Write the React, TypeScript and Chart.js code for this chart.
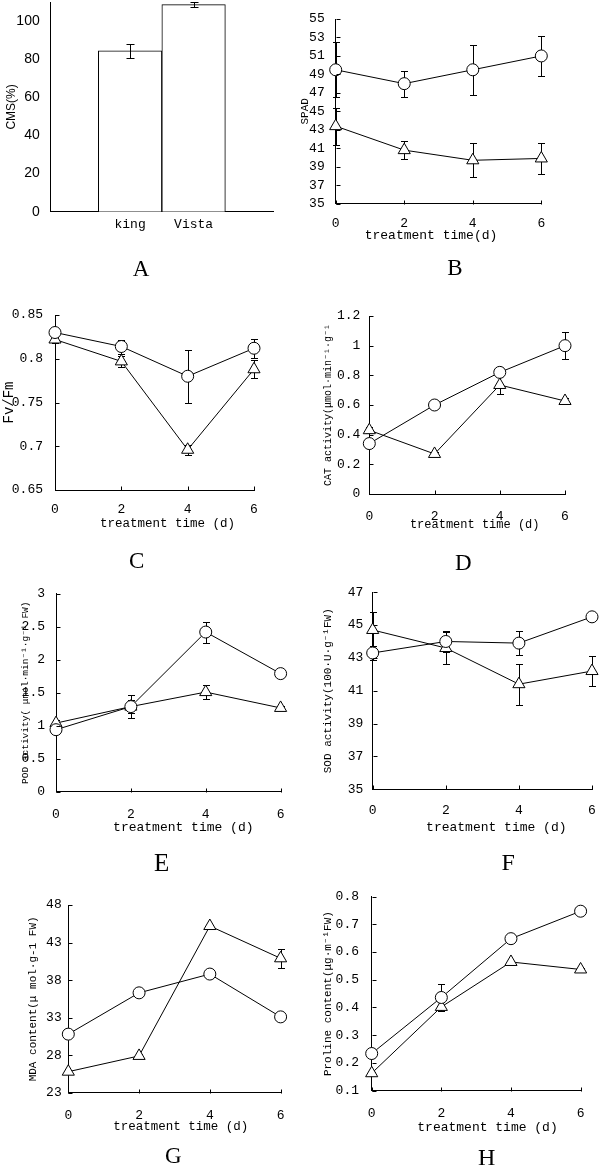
import React, { useEffect, useRef } from 'react';
import { Chart, registerables } from 'chart.js';

Chart.register(...registerables);

// ---------- data ----------
const days = [0, 2, 4, 6];
const dayTickLabels = ['0', '2', '4', '6'];

const cmsCultivars = ['king', 'Vista'];
const cmsValues = [84.5, 108.7];
const cmsErrors = [3.8, 1.2];
const cmsTicks = [0, 20, 40, 60, 80, 100];
const cmsTickLabels = ['0', '20', '40', '60', '80', '100'];

const spadCircle = [49.5, 48.0, 49.5, 51.0];
const spadCircleErr = [3.0, 1.4, 2.7, 2.2];
const spadTriangle = [43.4, 40.8, 39.7, 39.9];
const spadTriangleErr = [2.0, 1.0, 1.85, 1.7];
const spadTicks = [35, 37, 39, 41, 43, 45, 47, 49, 51, 53, 55];
const spadTickLabels = ['35', '37', '39', '41', '43', '45', '47', '49', '51', '53', '55'];

const fvfmCircle = [0.83, 0.814, 0.78, 0.812];
const fvfmCircleErr = [0.005, 0.008, 0.03, 0.011];
const fvfmTriangle = [0.822, 0.797, 0.696, 0.788];
const fvfmTriangleErr = [0.004, 0.006, 0.006, 0.01];
const fvfmTicks = [0.65, 0.7, 0.75, 0.8, 0.85];
const fvfmTickLabels = ['0.65', '0.7', '0.75', '0.8', '0.85'];

const catCircle = [0.34, 0.6, 0.82, 1.0];
const catCircleErr = [0.02, 0.02, 0.02, 0.09];
const catTriangle = [0.43, 0.27, 0.735, 0.627];
const catTriangleErr = [0.02, 0.01, 0.06, 0.02];
const catTicks = [0, 0.2, 0.4, 0.6, 0.8, 1, 1.2];
const catTickLabels = ['0', '0.2', '0.4', '0.6', '0.8', '1', '1.2'];

const podCircle = [0.94, 1.29, 2.42, 1.79];
const podCircleErr = [0.05, 0.17, 0.16, 0.03];
const podTriangle = [1.04, 1.29, 1.51, 1.27];
const podTriangleErr = [0.05, 0.1, 0.1, 0.03];
const podTicks = [0, 0.5, 1, 1.5, 2, 2.5, 3];
const podTickLabels = ['0', '0.5', '1', '1.5', '2', '2.5', '3'];

const sodCircle = [43.3, 44.0, 43.9, 45.5];
const sodCircleErr = [0.4, 0.65, 0.75, 0.1];
const sodTriangle = [44.7, 43.6, 41.4, 42.2];
const sodTriangleErr = [1.1, 1.0, 1.24, 0.93];
const sodTicks = [35, 37, 39, 41, 43, 45, 47];
const sodTickLabels = ['35', '37', '39', '41', '43', '45', '47'];

const mdaCircle = [30.8, 36.3, 38.8, 33.1];
const mdaCircleErr = [0.2, 0.2, 0.2, 0.2];
const mdaTriangle = [25.8, 27.9, 45.2, 40.9];
const mdaTriangleErr = [0.2, 0.2, 0.2, 1.3];
const mdaTicks = [23, 28, 33, 38, 43, 48];
const mdaTickLabels = ['23', '28', '33', '38', '43', '48'];

const proCircle = [0.234, 0.436, 0.648, 0.747];
const proCircleErr = [0.005, 0.048, 0.005, 0.005];
const proTriangle = [0.163, 0.402, 0.564, 0.537];
const proTriangleErr = [0.005, 0.005, 0.005, 0.005];
const proTicks = [0.1, 0.2, 0.3, 0.4, 0.5, 0.6, 0.7, 0.8];
const proTickLabels = ['0.1', '0.2', '0.3', '0.4', '0.5', '0.6', '0.7', '0.8'];

// ---------- styling ----------
const MONO = "'Liberation Mono', 'Courier New', monospace";
const SANS = "'Liberation Sans', Arial, sans-serif";
const SERIF = "'Liberation Serif', 'Times New Roman', serif";
const X_H = 34;

type Rect = { x: number; y: number; w: number; h: number };
type Plot = { l: number; r: number; t: number; b: number };

function makeErrorBarPlugin(after: boolean, cap: number) {
  const draw = (chart: any) => {
    const ctx = chart.ctx;
    chart.data.datasets.forEach((ds: any, di: number) => {
      const errs: number[] | undefined = ds.errors;
      if (!errs) return;
      const meta = chart.getDatasetMeta(di);
      const yScale = chart.scales[meta.yAxisID];
      ctx.save();
      ctx.strokeStyle = '#000';
      ctx.lineWidth = 1;
      meta.data.forEach((el: any, i: number) => {
        const e = errs[i];
        if (!e) return;
        const v = ds.data[i].y;
        const x = Math.round(el.x) + 0.5;
        const y1 = Math.round(yScale.getPixelForValue(v + e)) + 0.5;
        const y2 = Math.round(yScale.getPixelForValue(v - e)) + 0.5;
        ctx.beginPath();
        ctx.moveTo(x, y1);
        ctx.lineTo(x, y2);
        ctx.moveTo(x - cap, y1);
        ctx.lineTo(x + cap, y1);
        ctx.moveTo(x - cap, y2);
        ctx.lineTo(x + cap, y2);
        ctx.stroke();
      });
      ctx.restore();
    });
  };
  return after
    ? { id: 'errorBarsAfter', afterDatasetsDraw: draw }
    : { id: 'errorBarsBefore', beforeDatasetsDraw: draw };
}

const innerTicksPlugin = {
  id: 'innerTicks',
  afterDraw(chart: any) {
    const ctx = chart.ctx;
    const xs = chart.scales.x;
    const ys = chart.scales.y;
    const left = Math.round(chart.chartArea.left) + 0.5;
    const bottom = Math.round(chart.chartArea.bottom) + 0.5;
    ctx.save();
    ctx.strokeStyle = '#000';
    ctx.lineWidth = 1;
    ctx.beginPath();
    ys.ticks.forEach((t: any) => {
      const py = Math.round(ys.getPixelForValue(t.value)) + 0.5;
      ctx.moveTo(left, py);
      ctx.lineTo(left + 4, py);
    });
    xs.ticks.forEach((t: any) => {
      const px = Math.round(xs.getPixelForValue(t.value)) + 0.5;
      ctx.moveTo(px, bottom);
      ctx.lineTo(px, bottom - 4);
    });
    ctx.stroke();
    ctx.restore();
  },
};

interface LinePanel {
  circle: number[];
  circleErr: number[];
  triangle: number[];
  triangleErr: number[];
  yTicks: number[];
  yTickLabels: string[];
  yTitle: string;
  yTitleSize: number;
  yTitleX: number;
  canvas: Rect;
  plot: Plot;
  yTickPad: number;
  xTickPad: number;
  xTitle: string;
  xTitleSize: number;
  xTitlePos: [number, number];
  letter: string;
  letterPos: [number, number];
  letterSize: number;
}

const panels: LinePanel[] = [
  {
    circle: spadCircle, circleErr: spadCircleErr, triangle: spadTriangle, triangleErr: spadTriangleErr,
    yTicks: spadTicks, yTickLabels: spadTickLabels,
    yTitle: 'SPAD', yTitleSize: 11, yTitleX: 305,
    canvas: { x: 298, y: 0, w: 302, h: 280 }, plot: { l: 335.7, r: 541.3, t: 19, b: 203.7 },
    yTickPad: 11, xTickPad: 12.5,
    xTitle: 'treatment time(d)', xTitleSize: 13, xTitlePos: [431, 235],
    letter: 'B', letterPos: [455, 267], letterSize: 23,
  },
  {
    circle: fvfmCircle, circleErr: fvfmCircleErr, triangle: fvfmTriangle, triangleErr: fvfmTriangleErr,
    yTicks: fvfmTicks, yTickLabels: fvfmTickLabels,
    yTitle: 'Fv/Fm', yTitleSize: 14, yTitleX: 9,
    canvas: { x: 0, y: 295, w: 300, h: 245 }, plot: { l: 55, r: 254, t: 315, b: 490 },
    yTickPad: 12, xTickPad: 12,
    xTitle: 'treatment time (d)', xTitleSize: 12.5, xTitlePos: [167.5, 524.3],
    letter: 'C', letterPos: [136.7, 560], letterSize: 23,
  },
  {
    circle: catCircle, circleErr: catCircleErr, triangle: catTriangle, triangleErr: catTriangleErr,
    yTicks: catTicks, yTickLabels: catTickLabels,
    yTitle: 'CAT activity(μmol·min⁻¹·g⁻¹', yTitleSize: 10, yTitleX: 328,
    canvas: { x: 300, y: 295, w: 300, h: 245 }, plot: { l: 369.3, r: 565, t: 316, b: 494 },
    yTickPad: 9, xTickPad: 15,
    xTitle: 'treatment time (d)', xTitleSize: 12, xTitlePos: [474.7, 525],
    letter: 'D', letterPos: [463.3, 561.7], letterSize: 23,
  },
  {
    circle: podCircle, circleErr: podCircleErr, triangle: podTriangle, triangleErr: podTriangleErr,
    yTicks: podTicks, yTickLabels: podTickLabels,
    yTitle: 'POD activity( μmol·min⁻¹·g⁻¹ FW)', yTitleSize: 9.5, yTitleX: 25,
    canvas: { x: 0, y: 575, w: 300, h: 260 }, plot: { l: 56, r: 285.7, t: 590, b: 791.7 },
    yTickPad: 11, xTickPad: 15.5,
    xTitle: 'treatment time (d)', xTitleSize: 13, xTitlePos: [183.3, 827.3],
    letter: 'E', letterPos: [161.7, 861.7], letterSize: 25,
  },
  {
    circle: sodCircle, circleErr: sodCircleErr, triangle: sodTriangle, triangleErr: sodTriangleErr,
    yTicks: sodTicks, yTickLabels: sodTickLabels,
    yTitle: 'SOD activity(100·U·g⁻¹FW)', yTitleSize: 11, yTitleX: 328.3,
    canvas: { x: 300, y: 575, w: 310, h: 260 }, plot: { l: 372.7, r: 592, t: 590.7, b: 789.3 },
    yTickPad: 9.4, xTickPad: 13,
    xTitle: 'treatment time (d)', xTitleSize: 13, xTitlePos: [496.3, 827.3],
    letter: 'F', letterPos: [508.3, 861.7], letterSize: 24,
  },
  {
    circle: mdaCircle, circleErr: mdaCircleErr, triangle: mdaTriangle, triangleErr: mdaTriangleErr,
    yTicks: mdaTicks, yTickLabels: mdaTickLabels,
    yTitle: 'MDA content(μ mol·g-1 FW)', yTitleSize: 11, yTitleX: 33.3,
    canvas: { x: 0, y: 885, w: 300, h: 280 }, plot: { l: 68.3, r: 282.7, t: 905, b: 1092.7 },
    yTickPad: 6.6, xTickPad: 15.5,
    xTitle: 'treatment time (d)', xTitleSize: 12.5, xTitlePos: [180.8, 1127.3],
    letter: 'G', letterPos: [173.3, 1155], letterSize: 23,
  },
  {
    circle: proCircle, circleErr: proCircleErr, triangle: proTriangle, triangleErr: proTriangleErr,
    yTicks: proTicks, yTickLabels: proTickLabels,
    yTitle: 'Proline content(μg·m⁻¹FW)', yTitleSize: 11, yTitleX: 328.3,
    canvas: { x: 300, y: 876, w: 300, h: 289 }, plot: { l: 371.7, r: 586, t: 896, b: 1090.7 },
    yTickPad: 12.7, xTickPad: 15.5,
    xTitle: 'treatment time (d)', xTitleSize: 13, xTitlePos: [487.5, 1126.7],
    letter: 'H', letterPos: [486.7, 1156.7], letterSize: 24,
  },
];

function lineConfig(p: LinePanel): any {
  const { canvas, plot } = p;
  const lh = p.yTitleSize * 1.2;
  const series = (vals: number[], errs: number[], style: string, r: number) => ({
    data: days.map((d, i) => ({ x: d, y: vals[i] })),
    errors: errs,
    borderColor: '#000',
    borderWidth: 1,
    backgroundColor: '#fff',
    pointStyle: style,
    pointRadius: r,
    pointBorderColor: '#000',
    pointBackgroundColor: '#fff',
    pointBorderWidth: 1,
    tension: 0,
    fill: false,
    clip: false,
  });
  return {
    type: 'line',
    data: {
      datasets: [
        series(p.circle, p.circleErr, 'circle', 6),
        series(p.triangle, p.triangleErr, 'triangle', 7),
      ],
    },
    options: {
      responsive: false,
      animation: false,
      events: [],
      plugins: { legend: { display: false }, tooltip: { enabled: false } },
      layout: {
        padding: {
          left: 0,
          top: plot.t - canvas.y,
          right: canvas.x + canvas.w - plot.r,
          bottom: canvas.y + canvas.h - plot.b - X_H,
        },
      },
      scales: {
        x: {
          type: 'linear',
          min: days[0],
          max: days[days.length - 1],
          afterBuildTicks: (a: any) => {
            a.ticks = days.map((v) => ({ value: v }));
          },
          afterFit: (s: any) => {
            s.height = X_H;
          },
          grid: { display: false, drawTicks: false },
          border: { display: true, color: '#000', width: 1 },
          ticks: {
            autoSkip: false,
            maxRotation: 0,
            color: '#000',
            padding: p.xTickPad,
            font: { family: MONO, size: 13 },
            callback: (_v: any, i: number) => dayTickLabels[i],
          },
        },
        y: {
          type: 'linear',
          min: p.yTicks[0],
          max: p.yTicks[p.yTicks.length - 1],
          afterBuildTicks: (a: any) => {
            a.ticks = p.yTicks.map((v) => ({ value: v }));
          },
          afterFit: (s: any) => {
            s.width = plot.l - canvas.x;
          },
          grid: { display: false, drawTicks: false },
          border: { display: true, color: '#000', width: 1 },
          ticks: {
            autoSkip: false,
            color: '#000',
            padding: p.yTickPad,
            font: { family: MONO, size: 13 },
            callback: (_v: any, i: number) => p.yTickLabels[i],
          },
          title: {
            display: true,
            text: p.yTitle,
            color: '#000',
            font: { family: MONO, size: p.yTitleSize },
            padding: { top: Math.max(0, p.yTitleX - canvas.x - lh / 2), bottom: 0 },
          },
        },
      },
    },
    plugins: [makeErrorBarPlugin(false, 3.5), innerTicksPlugin],
  };
}

const barCanvas: Rect = { x: 0, y: -20, w: 300, h: 290 };
const barPlot: Plot = { l: 50.7, r: 273, t: 2.2, b: 211.7 };

function barConfig(): any {
  const yTitleSize = 12;
  return {
    type: 'bar',
    data: {
      datasets: [
        {
          data: cmsCultivars.map((_c, i) => ({ x: i + 1, y: cmsValues[i] })),
          errors: cmsErrors,
          backgroundColor: '#fff',
          borderColor: '#000',
          borderWidth: 1,
          barPercentage: 1,
          categoryPercentage: 1,
        },
      ],
    },
    options: {
      responsive: false,
      animation: false,
      events: [],
      plugins: { legend: { display: false }, tooltip: { enabled: false } },
      layout: {
        padding: {
          left: 0,
          top: barPlot.t - barCanvas.y,
          right: barCanvas.x + barCanvas.w - barPlot.r,
          bottom: barCanvas.y + barCanvas.h - barPlot.b - X_H,
        },
      },
      scales: {
        x: {
          type: 'linear',
          offset: false,
          min: 1 - 1.25,
          max: cmsCultivars.length + 1.25,
          afterBuildTicks: (a: any) => {
            a.ticks = cmsCultivars.map((_c, i) => ({ value: i + 1 }));
          },
          afterFit: (s: any) => {
            s.height = X_H;
          },
          grid: { display: false, drawTicks: false, offset: false },
          border: { display: true, color: '#000', width: 1 },
          ticks: {
            autoSkip: false,
            maxRotation: 0,
            color: '#000',
            padding: 5.5,
            font: { family: MONO, size: 13 },
            callback: (_v: any, i: number) => cmsCultivars[i],
          },
        },
        y: {
          type: 'linear',
          min: 0,
          max: 110,
          afterBuildTicks: (a: any) => {
            a.ticks = cmsTicks.map((v) => ({ value: v }));
          },
          afterFit: (s: any) => {
            s.width = barPlot.l - barCanvas.x;
          },
          grid: { display: false, drawTicks: false },
          border: { display: true, color: '#000', width: 1 },
          ticks: {
            autoSkip: false,
            color: '#000',
            padding: 11,
            font: { family: SANS, size: 14 },
            callback: (_v: any, i: number) => cmsTickLabels[i],
          },
          title: {
            display: true,
            text: 'CMS(%)',
            color: '#000',
            font: { family: SANS, size: yTitleSize },
            padding: { top: 4.5, bottom: 0 },
          },
        },
      },
    },
    plugins: [makeErrorBarPlugin(true, 4)],
  };
}

function ChartBox({ rect, make }: { rect: Rect; make: () => any }) {
  const ref = useRef<HTMLCanvasElement>(null);
  useEffect(() => {
    const chart = new Chart(ref.current as HTMLCanvasElement, make());
    return () => chart.destroy();
  }, []);
  return (
    <canvas
      ref={ref}
      width={rect.w}
      height={rect.h}
      style={{ position: 'absolute', left: rect.x, top: rect.y, width: rect.w, height: rect.h }}
    />
  );
}

function Label({ text, x, y, size, family }: { text: string; x: number; y: number; size: number; family: string }) {
  return (
    <div
      style={{
        position: 'absolute',
        left: x,
        top: y,
        transform: 'translate(-50%, -50%)',
        fontFamily: family,
        fontSize: size,
        lineHeight: 1,
        whiteSpace: 'pre',
        color: '#000',
      }}
    >
      {text}
    </div>
  );
}

export default function App() {
  return (
    <div
      style={{
        position: 'absolute',
        left: 0,
        top: 0,
        width: 600,
        height: 1165,
        overflow: 'hidden',
        background: '#fff',
      }}
    >
      <ChartBox rect={barCanvas} make={barConfig} />
      {panels.map((p, i) => (
        <ChartBox key={i} rect={p.canvas} make={() => lineConfig(p)} />
      ))}
      <Label text="A" x={141} y={268} size={23} family={SERIF} />
      {panels.map((p, i) => (
        <React.Fragment key={'t' + i}>
          <Label text={p.xTitle} x={p.xTitlePos[0]} y={p.xTitlePos[1]} size={p.xTitleSize} family={MONO} />
          <Label text={p.letter} x={p.letterPos[0]} y={p.letterPos[1]} size={p.letterSize} family={SERIF} />
        </React.Fragment>
      ))}
    </div>
  );
}
